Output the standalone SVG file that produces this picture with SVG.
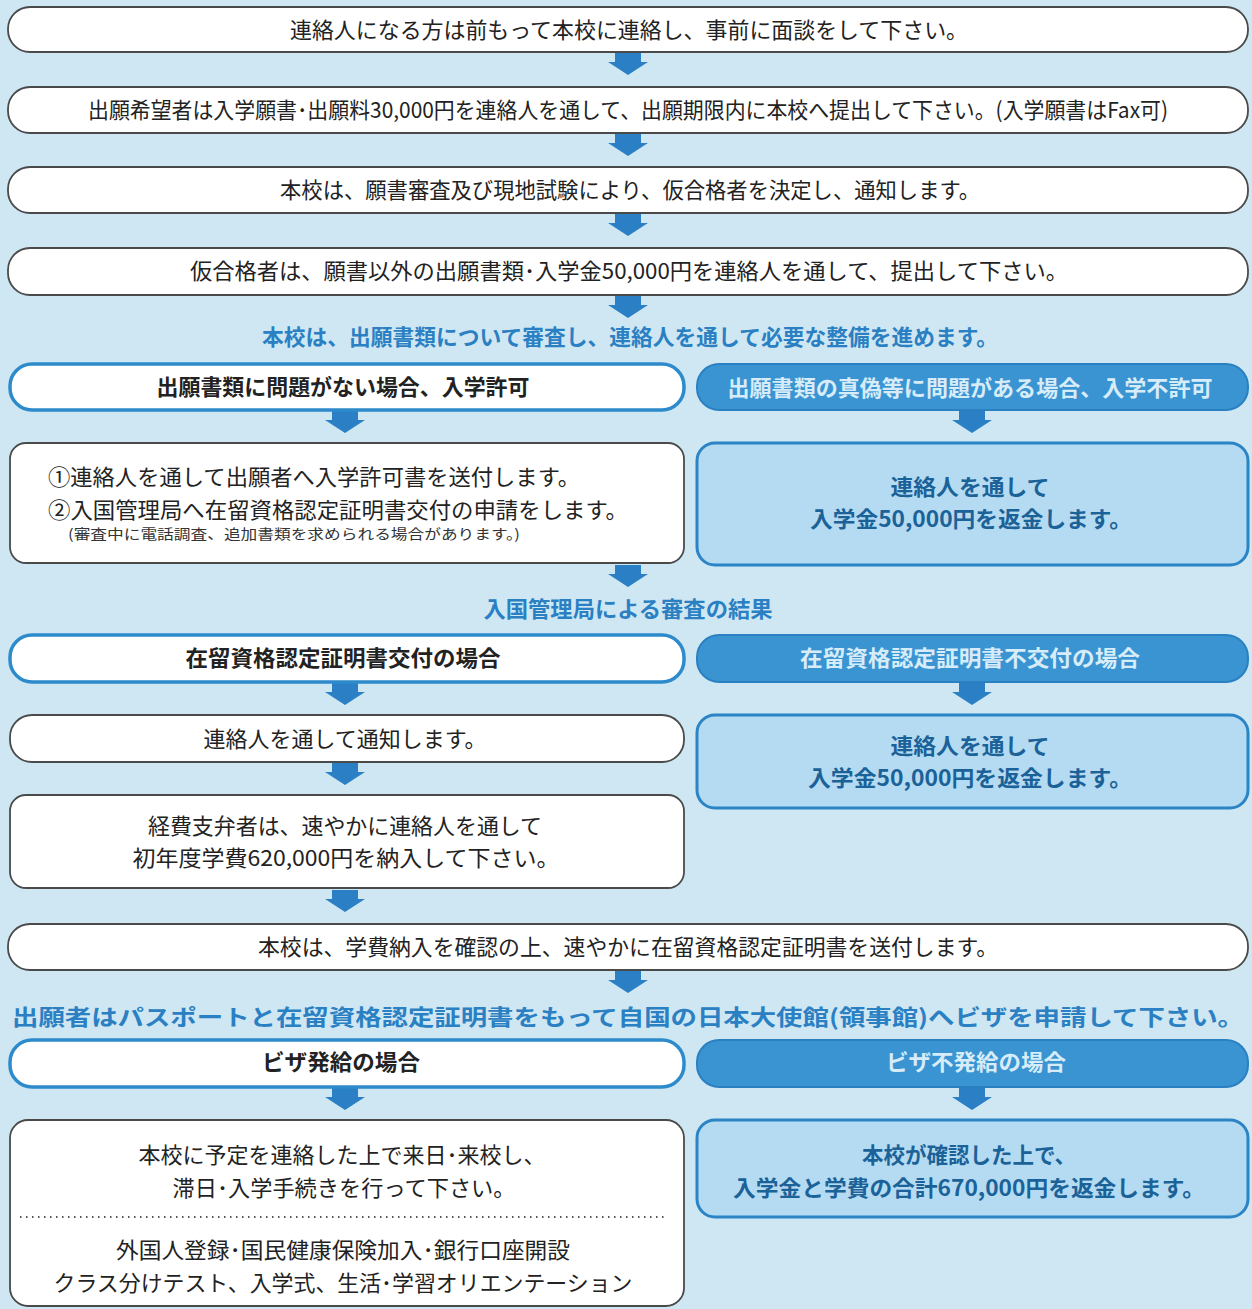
<svg xmlns="http://www.w3.org/2000/svg" width="1252" height="1309" viewBox="0 0 1252 1309">
<defs>
<style>
text{font-family:"Noto Sans CJK JP","Noto Sans CJK SC",sans-serif;dominant-baseline:central;transform:translateY(-2px);}
.t{font-size:22px;fill:#222;text-anchor:middle;}
.tl{font-size:22px;fill:#222;}
.hb{font-size:22px;fill:#222;font-weight:bold;text-anchor:middle;}
.hw{font-size:22px;fill:#d6ecf9;font-weight:bold;text-anchor:middle;}
.hd{font-size:22px;fill:#2a80c2;font-weight:bold;text-anchor:middle;}
.rb{font-size:22px;fill:#1b6299;font-weight:bold;text-anchor:middle;}
.small{font-size:14px;fill:#333;}
.wbox{fill:#fff;stroke:#4a4a4a;stroke-width:1.8;}
.lhead{fill:#fff;stroke:#2d8bcc;stroke-width:3.5;}
.rhead{fill:#3a94d2;stroke:#2a80c0;stroke-width:2;}
.rbox{fill:#b4dbf1;stroke:#2a84c6;stroke-width:3;}
.arr{fill:#2b80c5;}
</style>
<path id="a" d="M-13,0 H13 V9 H20 L0,22 L-20,9 H-13 Z"/>
</defs>
<rect width="1252" height="1309" fill="#cfe7f3"/>

<g id="connectors">
<use href="#a" class="arr" x="628" y="53"/>
<use href="#a" class="arr" x="628" y="134"/>
<use href="#a" class="arr" x="628" y="214"/>
<use href="#a" class="arr" x="628" y="296"/>
<use href="#a" class="arr" x="345" y="411"/>
<use href="#a" class="arr" x="972" y="411"/>
<use href="#a" class="arr" x="628" y="565"/>
<use href="#a" class="arr" x="345" y="683"/>
<use href="#a" class="arr" x="972" y="683"/>
<use href="#a" class="arr" x="345" y="763"/>
<use href="#a" class="arr" x="345" y="890"/>
<use href="#a" class="arr" x="628" y="971"/>
<use href="#a" class="arr" x="345" y="1088"/>
<use href="#a" class="arr" x="972" y="1088"/>
</g>

<g id="step1">
<rect class="wbox" x="8" y="7" width="1240" height="45" rx="22"/>
<text class="t" x="629" y="30" textLength="678" lengthAdjust="spacingAndGlyphs">連絡人になる方は前もって本校に連絡し、事前に面談をして下さい。</text>
</g>
<g id="step2">
<rect class="wbox" x="8" y="87" width="1240" height="46" rx="22"/>
<text class="t" x="628" y="110" textLength="1080" lengthAdjust="spacingAndGlyphs">出願希望者は入学願書･出願料30,000円を連絡人を通して、出願期限内に本校へ提出して下さい。(入学願書はFax可)</text>
</g>
<g id="step3">
<rect class="wbox" x="8" y="167" width="1240" height="46" rx="22"/>
<text class="t" x="630" y="190" textLength="700" lengthAdjust="spacingAndGlyphs">本校は、願書審査及び現地試験により、仮合格者を決定し、通知します。</text>
</g>
<g id="step4">
<rect class="wbox" x="8" y="248" width="1240" height="47" rx="22"/>
<text class="t" x="629" y="271" textLength="878" lengthAdjust="spacingAndGlyphs">仮合格者は、願書以外の出願書類･入学金50,000円を連絡人を通して、提出して下さい。</text>
</g>
<g id="heading1">
<text class="hd" x="630" y="337" textLength="736" lengthAdjust="spacingAndGlyphs">本校は、出願書類について審査し、連絡人を通して必要な整備を進めます。</text>
</g>

<g id="ok1">
<rect class="lhead" x="10" y="364" width="674" height="46" rx="22"/>
<text class="hb" x="343" y="387" textLength="373" lengthAdjust="spacingAndGlyphs">出願書類に問題がない場合、入学許可</text>
</g>
<g id="ng1">
<rect class="rhead" x="697" y="364" width="551" height="46" rx="22"/>
<text class="hw" x="970" y="388" textLength="485" lengthAdjust="spacingAndGlyphs">出願書類の真偽等に問題がある場合、入学不許可</text>
</g>
<g id="ok1box">
<rect class="wbox" x="10" y="443" width="674" height="120" rx="16"/>
<text class="tl" x="48" y="477" font-size="23" textLength="532" lengthAdjust="spacingAndGlyphs">①連絡人を通して出願者へ入学許可書を送付します。</text>
<text class="tl" x="48" y="510" textLength="580" lengthAdjust="spacingAndGlyphs">②入国管理局へ在留資格認定証明書交付の申請をします。</text>
<text class="small" x="68" y="535" textLength="452" lengthAdjust="spacingAndGlyphs">(審査中に電話調査、追加書類を求められる場合があります。)</text>
</g>
<g id="ng1box">
<rect class="rbox" x="697" y="443" width="551" height="122" rx="18"/>
<text class="rb" x="970" y="487" textLength="159" lengthAdjust="spacingAndGlyphs">連絡人を通して</text>
<text class="rb" x="971" y="519" textLength="322" lengthAdjust="spacingAndGlyphs">入学金50,000円を返金します。</text>
</g>

<g id="heading2">
<text class="hd" x="628" y="609" textLength="289" lengthAdjust="spacingAndGlyphs">入国管理局による審査の結果</text>
</g>

<g id="ok2">
<rect class="lhead" x="10" y="635" width="674" height="47" rx="22"/>
<text class="hb" x="343" y="658" textLength="315" lengthAdjust="spacingAndGlyphs">在留資格認定証明書交付の場合</text>
</g>
<g id="ng2">
<rect class="rhead" x="697" y="635" width="551" height="47" rx="22"/>
<text class="hw" x="970" y="658" textLength="340" lengthAdjust="spacingAndGlyphs">在留資格認定証明書不交付の場合</text>
</g>
<g id="ok2box">
<rect class="wbox" x="10" y="715" width="674" height="47" rx="22"/>
<text class="t" x="345" y="739" textLength="283" lengthAdjust="spacingAndGlyphs">連絡人を通して通知します。</text>
</g>
<g id="ng2box">
<rect class="rbox" x="697" y="715" width="551" height="93" rx="18"/>
<text class="rb" x="970" y="746" textLength="159" lengthAdjust="spacingAndGlyphs">連絡人を通して</text>
<text class="rb" x="970" y="778" textLength="324" lengthAdjust="spacingAndGlyphs">入学金50,000円を返金します。</text>
</g>
<g id="ok3box">
<rect class="wbox" x="10" y="795" width="674" height="93" rx="16"/>
<text class="t" x="345" y="826" textLength="394" lengthAdjust="spacingAndGlyphs">経費支弁者は、速やかに連絡人を通して</text>
<text class="t" x="346" y="858" textLength="427" lengthAdjust="spacingAndGlyphs">初年度学費620,000円を納入して下さい。</text>
</g>

<g id="step5">
<rect class="wbox" x="8" y="924" width="1240" height="46" rx="22"/>
<text class="t" x="628" y="947" textLength="740" lengthAdjust="spacingAndGlyphs">本校は、学費納入を確認の上、速やかに在留資格認定証明書を送付します。</text>
</g>
<g id="heading3">
<text class="hd" x="628" y="1017" font-size="26" textLength="1232" lengthAdjust="spacingAndGlyphs">出願者はパスポートと在留資格認定証明書をもって自国の日本大使館(領事館)へビザを申請して下さい。</text>
</g>

<g id="ok4">
<rect class="lhead" x="10" y="1040" width="674" height="47" rx="22"/>
<text class="hb" x="341" y="1062" textLength="158" lengthAdjust="spacingAndGlyphs">ビザ発給の場合</text>
</g>
<g id="ng4">
<rect class="rhead" x="697" y="1040" width="551" height="47" rx="22"/>
<text class="hw" x="976" y="1062" textLength="180" lengthAdjust="spacingAndGlyphs">ビザ不発給の場合</text>
</g>
<g id="ok4box">
<rect class="wbox" x="10" y="1120" width="674" height="186" rx="18"/>
<text class="t" x="342" y="1155" textLength="407" lengthAdjust="spacingAndGlyphs">本校に予定を連絡した上で来日･来校し、</text>
<text class="t" x="344" y="1188" textLength="343" lengthAdjust="spacingAndGlyphs">滞日･入学手続きを行って下さい。</text>
<line x1="20" y1="1217" x2="668" y2="1217" stroke="#555" stroke-width="2" stroke-dasharray="1.5 4.5"/>
<text class="t" x="343" y="1250" textLength="454" lengthAdjust="spacingAndGlyphs">外国人登録･国民健康保険加入･銀行口座開設</text>
<text class="t" x="343" y="1283" textLength="579" lengthAdjust="spacingAndGlyphs">クラス分けテスト、入学式、生活･学習オリエンテーション</text>
</g>
<g id="ng4box">
<rect class="rbox" x="697" y="1120" width="551" height="97" rx="18"/>
<text class="rb" x="969" y="1155" textLength="214" lengthAdjust="spacingAndGlyphs">本校が確認した上で、</text>
<text class="rb" x="969" y="1188" textLength="472" lengthAdjust="spacingAndGlyphs">入学金と学費の合計670,000円を返金します。</text>
</g>
</svg>
